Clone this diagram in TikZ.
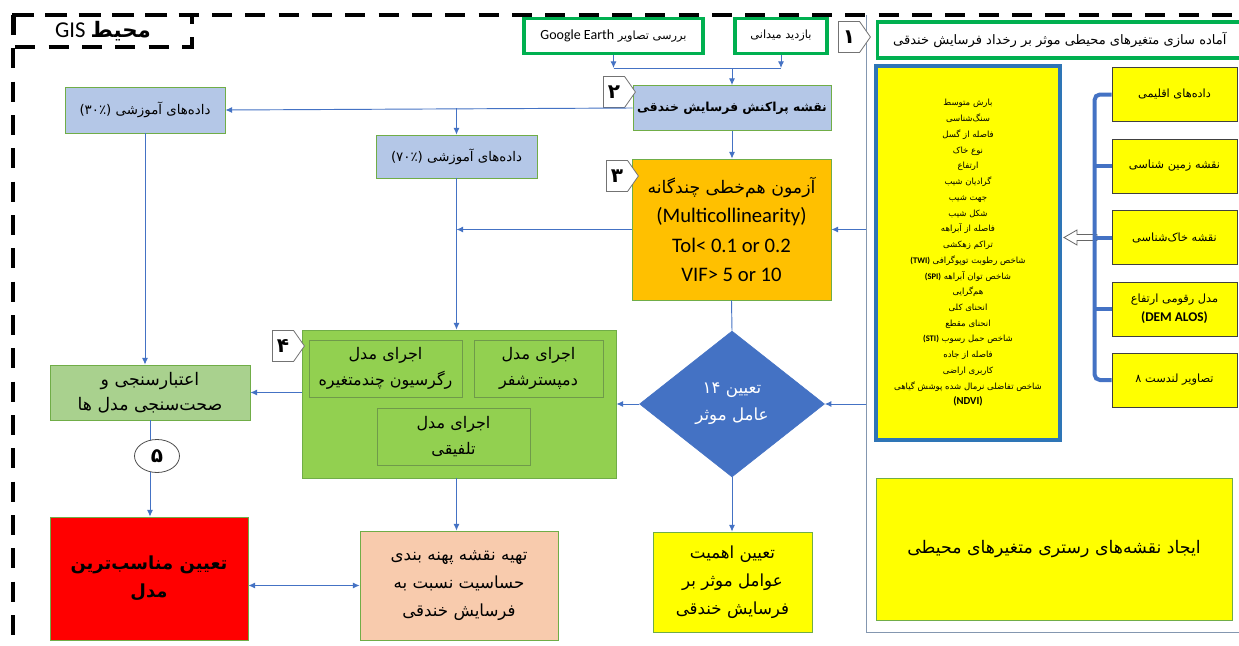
\documentclass[tikz,border=0pt]{standalone}
\usepackage{fontspec}
\setmainfont{Carlito}
\newfontfamily\fa[Script=Arabic]{DejaVu Sans}
\newfontfamily\lat{Carlito}
\TeXXeTstate=1
\usetikzlibrary{shapes.geometric,shapes.symbols,arrows.meta,calc}
\newcommand\fr[1]{\beginR#1\endR}
\newcommand\fsz[2]{\fontsize{#1}{#2}\selectfont}
\definecolor{ablue}{HTML}{4472C4}
\definecolor{lblue}{HTML}{B4C7E7}
\definecolor{gbord}{HTML}{70AD47}
\definecolor{gthick}{HTML}{00B050}
\definecolor{orng}{HTML}{FFC000}
\definecolor{lgreen}{HTML}{92D050}
\definecolor{vgreen}{HTML}{A9D18E}
\definecolor{peach}{HTML}{F8CBAD}
\definecolor{yel}{HTML}{FFFF00}
\definecolor{bbord}{HTML}{2E75B6}
\definecolor{frm}{HTML}{8497B0}
\definecolor{subb}{HTML}{6F9A4A}
\tikzset{
  bx/.style={draw=gbord, line width=0.6pt, align=center, inner sep=0pt},
  wh/.style 2 args={minimum width=#1*0.75pt, minimum height=#2*0.75pt},
  arr/.style={draw=ablue, line width=0.7pt, -{Latex[length=5pt,width=4.5pt]}},
  darr/.style={draw=ablue, line width=0.7pt, {Latex[length=5pt,width=4.5pt]}-{Latex[length=5pt,width=4.5pt]}},
  ln/.style={draw=ablue, line width=0.7pt},
  brk/.style={draw=ablue, line width=3pt},
  outer/.style={draw=black, line width=3pt, dash pattern=on 15pt off 10pt},
  stepmark/.style={signal, signal to=east, signal pointer angle=110, draw=black!55, fill=white,
     line width=0.6pt, inner sep=0pt, wh={32}{31}, font=\fa\bfseries\fsz{15}{15}},
  topbox/.style={draw=gthick, line width=2.3pt, fill=white, align=center, inner sep=0pt},
  ybox/.style={draw=black!75, line width=0.6pt, fill=yel, align=center, inner sep=0pt, wh={125}{54}, font=\fa\fsz{8.5}{14}}
}
\begin{document}
\begin{tikzpicture}[x=0.75pt,y=-0.75pt]
\useasboundingbox[fill=white] (0,0) rectangle (1239,646);

% right panel frame
\coordinate (frL) at (866,0);
\draw[frm, line width=0.7pt] (866,15) -- (866,632) -- (1245,632);

% title box of right panel
\node[topbox, wh={370}{36}, anchor=west, font=\fa\fsz{9.8}{12}] (title) at (876,40)
  {\hspace*{-4pt}\fr{آماده سازی متغیرهای محیطی موثر بر رخداد فرسایش خندقی}};

% list box
\node[draw=bbord, line width=3pt, fill=yel, align=center, inner sep=0pt, wh={184}{374}, font=\fa\fsz{6.4}{11.8}] (big) at (968,253)
 {\fr{بارش متوسط}\\ \fr{سنگ‌شناسی}\\ \fr{فاصله از گسل}\\ \fr{نوع خاک}\\ \fr{ارتفاع}\\
  \fr{گرادیان شیب}\\ \fr{جهت شیب}\\ \fr{شکل شیب}\\ \fr{فاصله از آبراهه}\\ \fr{تراکم زهکشی}\\
  \fr{شاخص رطوبت توپوگرافی \beginL{\lat\bfseries (TWI)}\endL}\\
  \fr{شاخص توان آبراهه \beginL{\lat\bfseries (SPI)}\endL}\\
  \fr{هم‌گرایی}\\ \fr{انحنای کلی}\\ \fr{انحنای مقطع}\\
  \fr{شاخص حمل رسوب \beginL{\lat\bfseries (STI)}\endL}\\
  \fr{فاصله از جاده}\\ \fr{کاربری اراضی}\\
  \fr{شاخص تفاضلی نرمال شده پوشش گیاهی}\\
  {\lat\bfseries\fsz{8}{11.8}(NDVI)}};

% source boxes
\node[ybox] (b1) at (1174.5,94.5) {\fr{داده‌های اقلیمی}};
\node[ybox] (b2) at (1174.5,166) {\fr{نقشه زمین شناسی}};
\node[ybox] (b3) at (1174.5,237.5) {\fr{نقشه خاک‌شناسی}};
\node[ybox] (b4) at (1174.5,309) {\fr{مدل رقومی ارتفاع}\\ {\lat\bfseries\fsz{10}{14}(DEM ALOS)}};
\node[ybox] (b5) at (1174.5,380) {\fr{تصاویر لندست ۸}};

% hollow arrow
\coordinate (ha) at (big.east |- b3.west);
\draw[black!60, fill=white, line width=0.6pt] ($(ha)+(2,0)$) -- ++(13,-7.5) -- ++(0,4.5) -- ++(20,0) -- ++(0,6) -- ++(-20,0) -- ++(0,4.5) -- cycle;

% bracket
\draw[brk, rounded corners=4pt] (b1.west) -- ++(-17,0) |- (b5.west);
\draw[brk] (b2.west) -- ++(-17,0);
\draw[brk] (b3.west) -- ++(-17,0);
\draw[brk] (b4.west) -- ++(-17,0);

% bottom right
\node[bx, fill=yel, wh={356}{142}, font=\fa\fsz{13}{16}] (ras) at (1054,549)
  {\fr{ایجاد نقشه‌های رستری متغیرهای محیطی}};

% outer dashed border
\draw[outer] (12,15) -- (1245,15);
\draw[outer] (13,15) -- (13,650);
\draw[outer] (14,15) rectangle (192,47);
\node[inner sep=0pt, font=\fsz{17}{18}] (gis) at (103,31) {GIS {\fa\bfseries\fsz{16}{18}محیط}};

% top boxes
\node[topbox, wh={179}{35}, font=\fa\fsz{8.5}{10}] (ge) at (613.5,36)
  {\fr{بررسی تصاویر \beginL{\lat\fsz{10.5}{10}Google Earth}\endL}};
\node[topbox, wh={92}{35}, font=\fa\fsz{8.5}{10}] (bm) at (781,36) {\fr{بازدید میدانی}};
\node[stepmark] (m1) at (849,37) {۱};

\node[bx, fill=lblue, wh={198}{45}, font=\fa\bfseries\fsz{9.3}{12}] (pm) at (732,108) {\fr{نقشه پراکنش فرسایش خندقی}};
\node[stepmark] (m2) at (614,92) {۲};

\node[bx, fill=lblue, wh={160}{46}, font=\fa\fsz{10}{12}] (t30) at (145,110) {\fr{داده‌های آموزشی (۳۰٪)}};
\node[bx, fill=lblue, wh={161}{43}, font=\fa\fsz{10}{12}] (t70) at (456.5,156.5) {\fr{داده‌های آموزشی (۷۰٪)}};

\node[bx, fill=orng, wh={199}{141}, font=\fa\fsz{13}{22}] (mc) at (731.5,229.5)
  {\fr{آزمون هم‌خطی چندگانه}\\ {\lat\fsz{15.5}{22}(Multicollinearity)}\\
   {\lat\fsz{15.5}{22}Tol< 0.1 or 0.2}\\ {\lat\fsz{15.5}{22}VIF> 5 or 10}};
\node[stepmark] (m3) at (617,176) {۳};

\node[diamond, draw=ablue, fill=ablue, inner sep=0pt, wh={185}{146}, align=center, text=white, font=\fa\fsz{12.5}{20}] (dia) at (732,404)
  {\fr{تعیین ۱۴}\\ \fr{عامل موثر}};

\node[bx, fill=lgreen, wh={314}{148}] (gr) at (459,404) {};
\node[draw=subb, line width=0.5pt, inner sep=0pt, align=center, wh={153}{57}, font=\fa\fsz{12}{20}] (s1) at (385.5,368.5) {\fr{اجرای مدل}\\ \fr{رگرسیون چندمتغیره}};
\node[draw=subb, line width=0.5pt, inner sep=0pt, align=center, wh={129}{57}, font=\fa\fsz{12}{20}] (s2) at (538.5,368.5) {\fr{اجرای مدل}\\ \fr{دمپسترشفر}};
\node[draw=subb, line width=0.5pt, inner sep=0pt, align=center, wh={153}{57}, font=\fa\fsz{12}{20}] (s3) at (453.5,436.5) {\fr{اجرای مدل}\\ \fr{تلفیقی}};
\node[stepmark] (m4) at (283,346) {۴};

\node[bx, fill=vgreen, wh={200}{55}, font=\fa\fsz{13}{19}] (val) at (150,392.5) {\fr{اعتبارسنجی و}\\ \fr{صحت‌سنجی مدل ها}};
\node[bx, fill=red, wh={198}{123}, font=\fa\bfseries\fsz{13.5}{21}] (red) at (149,578.5) {\fr{تعیین مناسب‌ترین}\\ \fr{مدل}};
\node[bx, fill=peach, wh={198}{109}, font=\fa\fsz{12.5}{21}] (pk) at (459,585.5)
  {\fr{تهیه نقشه پهنه بندی}\\ \fr{حساسیت نسبت به}\\ \fr{فرسایش خندقی}};
\node[bx, fill=yel, wh={159}{100}, font=\fa\fsz{12.5}{21}] (imp) at (732.5,582)
  {\fr{تعیین اهمیت}\\ \fr{عوامل موثر بر}\\ \fr{فرسایش خندقی}};

% connectors
\coordinate (j1) at (732,68);
\draw[arr] (ge.south) -- (ge.south |- j1);
\draw[arr] (bm.south) -- (bm.south |- j1);
\draw[ln] (ge.south |- j1) -- (bm.south |- j1);
\draw[arr] (j1) -- (j1 |- pm.north);
\draw[arr] (pm.west) -- (t30.east);
\draw[arr] (t70.north |- pm.west) -- (t70.north);
\draw[arr] (pm.south) -- (pm.south |- mc.north);
\draw[arr] (t30.south) -- (t30.south |- val.north);
\draw[arr] (t70.south) -- (t70.south |- gr.north);
\draw[arr] (frL |- mc.east) -- (mc.east);
\draw[arr] (mc.west) -- (t70.south |- mc.west);
\draw[ln] (mc.south) -- (dia.north);
\draw[arr] (frL |- dia.east) -- (dia.east);
\draw[arr] (dia.west) -- (gr.east |- dia.west);
\draw[arr] (gr.west |- val.east) -- (val.east);
\draw[arr] (val.south) -- (val.south |- red.north);
\node[ellipse, draw=black!70, fill=white, line width=0.6pt, inner sep=0pt, wh={45}{33}, font=\fa\bfseries\fsz{15}{15}] (m5) at (157,456) {۵};
\draw[arr] (gr.south -| t70.south) -- (t70.south |- pk.north);
\draw[darr] (red.east |- pk.west) -- (pk.west);
\draw[arr] (dia.south) -- (dia.south |- imp.north);
\end{tikzpicture}
\end{document}
